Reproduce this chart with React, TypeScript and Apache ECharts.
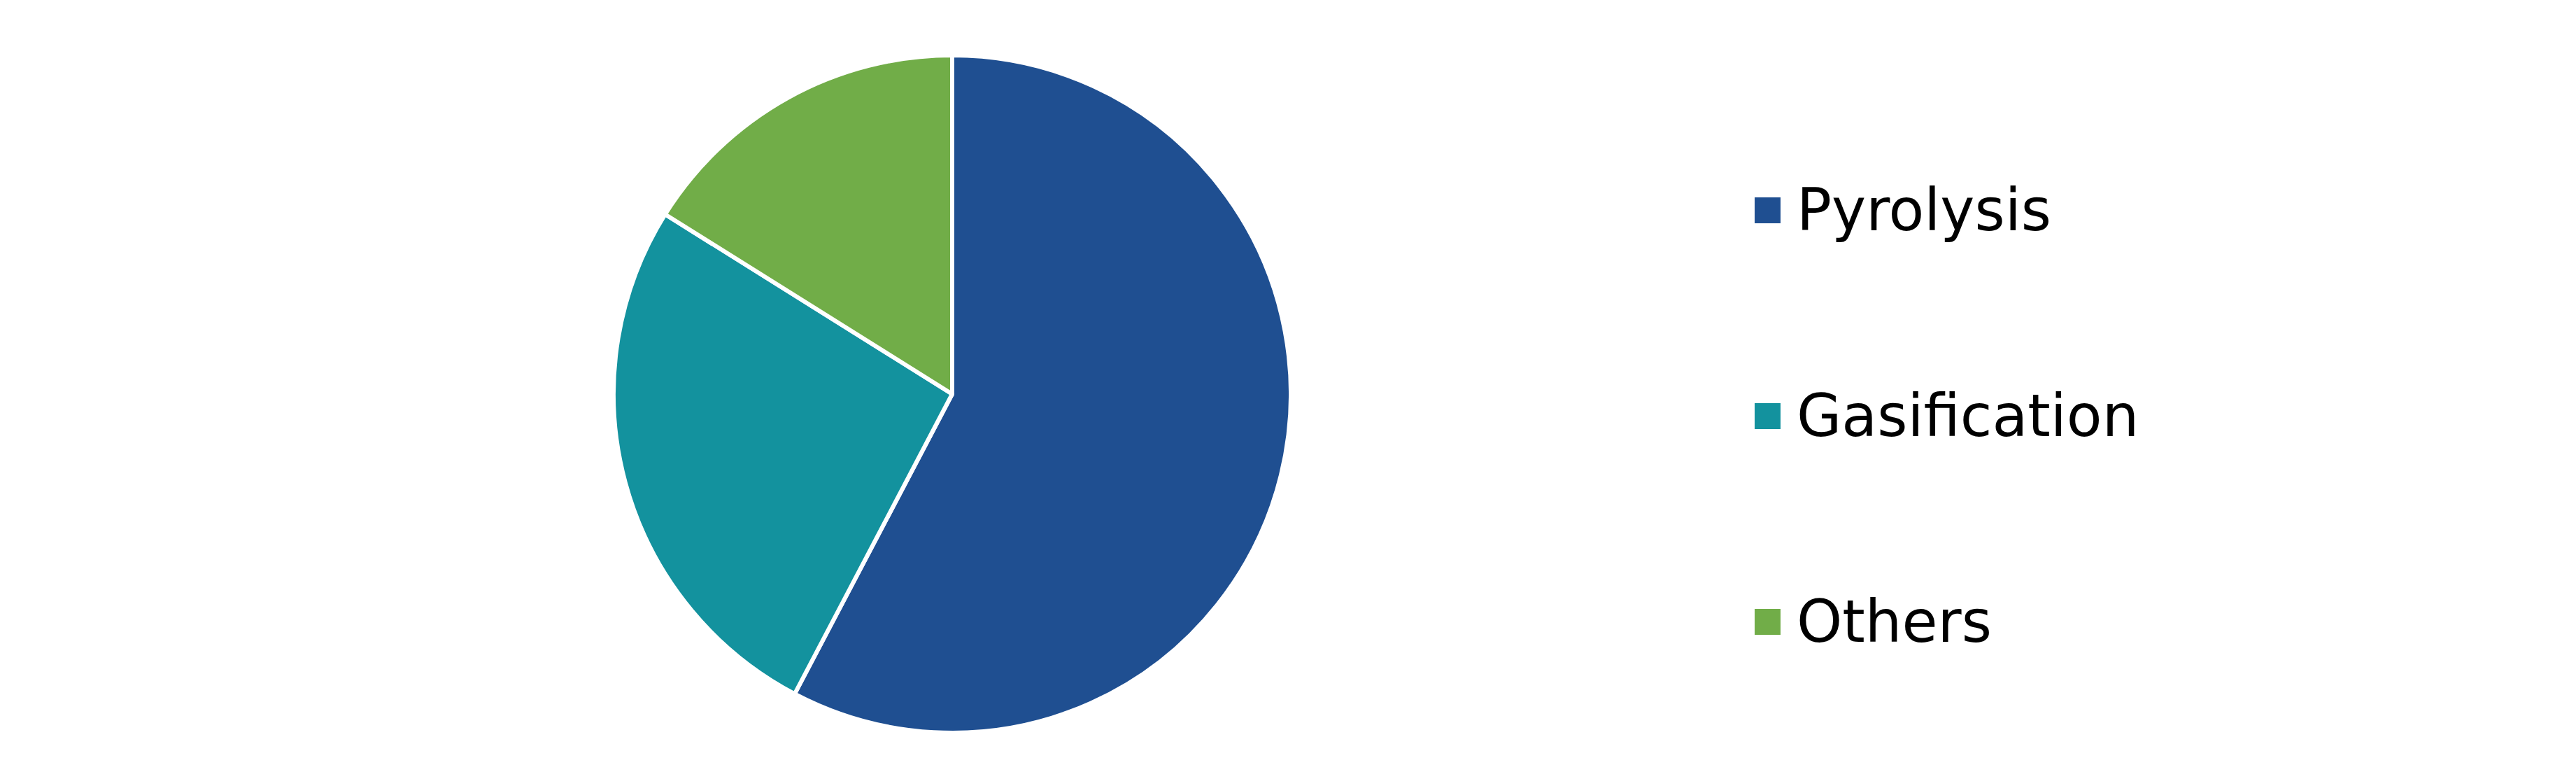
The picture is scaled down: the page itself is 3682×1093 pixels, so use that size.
import React, { useEffect, useRef } from "react";
import * as echarts from "echarts";

const categories = ["Pyrolysis", "Gasification", "Others"];
const shares = [57.7, 26.2, 16.1];
const colors = ["#1f4f91", "#13929e", "#71ad48"];

const App: React.FC = () => {
  const chartRef = useRef<HTMLDivElement>(null);

  useEffect(() => {
    document.body.style.margin = "0";
    if (!chartRef.current) return;
    const chart = echarts.init(chartRef.current, null, { renderer: "svg" });

    const option = {
      animation: false,
      color: colors,
      legend: {
        orient: "vertical",
        left: 2506,
        top: 259,
        padding: 0,
        itemWidth: 39,
        itemHeight: 39,
        itemGap: 211,
        icon: "rect",
        selectedMode: false,
        data: categories,
        textStyle: {
          fontFamily: "DejaVu Sans",
          fontSize: 83,
          lineHeight: 83,
          color: "#000",
          padding: [0, 0, 0, 17],
        },
      },
      series: [
        {
          type: "pie",
          center: [1361, 563],
          radius: 484,
          startAngle: 90,
          clockwise: true,
          label: { show: false },
          labelLine: { show: false },
          emphasis: { disabled: true },
          itemStyle: { borderColor: "#fff", borderWidth: 6 },
          data: categories.map((name, i) => ({ name, value: shares[i] })),
        },
      ],
    };
    chart.setOption(option);

    return () => {
      chart.dispose();
    };
  }, []);

  return <div ref={chartRef} style={{ width: 3682, height: 1093 }}></div>;
};

export default App;
